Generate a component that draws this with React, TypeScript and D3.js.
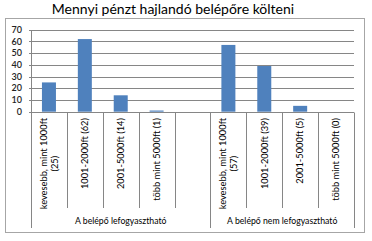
import React, { useEffect, useRef } from "react";
import * as d3 from "d3";

const title = "Mennyi pénzt hajlandó belépőre költeni";
const groupNames = ["A belépő lefogyasztható", "A belépő nem lefogyasztható"];
const groupSizes = [5, 4];
const categoryLabels: string[][] = [
  ["kevesebb, mint 1000ft", "(25)"],
  ["1001-2000ft (62)"],
  ["2001-5000ft (14)"],
  ["több mint 5000ft (1)"],
  [],
  ["kevesebb, mint 1000ft", "(57)"],
  ["1001-2000ft (39)"],
  ["2001-5000ft (5)"],
  ["több mint 5000ft (0)"],
];
const values: (number | null)[] = [25, 62, 14, 1, null, 57, 39, 5, 0];
const yTicks = [0, 10, 20, 30, 40, 50, 60, 70];

const W = 372;
const H = 241;
const FONT = "Lato, 'Noto Sans', sans-serif";

export default function App() {
  const ref = useRef<SVGSVGElement | null>(null);

  useEffect(() => {
    const svg = d3.select(ref.current);
    svg.selectAll("*").remove();

    const left = 31, right = 354, top = 29.7, bottom = 111.7;
    const x = d3.scaleBand<number>().domain(d3.range(values.length)).range([left, right]).padding(0);
    const y = d3.scaleLinear().domain([0, 70]).range([bottom, top]);

    svg.append("rect").attr("x", 0).attr("y", 0).attr("width", W).attr("height", H).attr("fill", "#fff");
    svg.append("rect").attr("x", 5.5).attr("y", 18.5).attr("width", 359).attr("height", 214)
      .attr("fill", "none").attr("stroke", "#a6a6a6");

    svg.append("text").attr("x", 173).attr("y", 14).attr("text-anchor", "middle")
      .attr("font-family", FONT).attr("font-size", 14).attr("fill", "#000").text(title);

    // gridlines
    svg.append("g").selectAll("line").data(yTicks).join("line")
      .attr("x1", left - 2).attr("x2", right)
      .attr("y1", (d) => Math.round(y(d)) + 0.5).attr("y2", (d) => Math.round(y(d)) + 0.5)
      .attr("stroke", "#868686");
    // y axis line
    svg.append("line").attr("x1", left + 0.5).attr("x2", left + 0.5)
      .attr("y1", Math.round(top) + 0.5).attr("y2", Math.round(bottom) + 0.5).attr("stroke", "#868686");
    // y labels
    svg.append("g").selectAll("text").data(yTicks).join("text")
      .attr("x", 22).attr("y", (d) => y(d)).attr("dy", "0.35em").attr("text-anchor", "end")
      .attr("font-family", FONT).attr("font-size", 9).attr("font-weight", 600).attr("fill", "#222").text((d) => d);

    // bars
    const bw = 14;
    svg.append("g").selectAll("rect").data(values.map((v, i) => ({ v, i })).filter((d) => d.v !== null && (d.v as number) > 0))
      .join("rect")
      .attr("x", (d) => (x(d.i) as number) + x.bandwidth() / 2 - bw / 2)
      .attr("width", bw)
      .attr("y", (d) => y(d.v as number))
      .attr("height", (d) => y(0) - y(d.v as number))
      .attr("fill", "#4f81bd");

    // separators
    const groupStarts = new Set<number>();
    let acc = 0;
    groupStarts.add(0);
    groupSizes.forEach((s) => { acc += s; groupStarts.add(acc); });
    const bounds = d3.range(values.length + 1);
    svg.append("g").selectAll("line").data(bounds).join("line")
      .attr("x1", (d) => Math.round(left + d * x.bandwidth()) + 0.5)
      .attr("x2", (d) => Math.round(left + d * x.bandwidth()) + 0.5)
      .attr("y1", Math.round(bottom) + 0.5)
      .attr("y2", (d) => (groupStarts.has(d) ? 228 : 208))
      .attr("stroke", "#868686");

    // category labels
    const labelTop = 118;
    categoryLabels.forEach((lines, i) => {
      if (!lines.length) return;
      const cx = (x(i) as number) + x.bandwidth() / 2;
      const g = svg.append("g");
      const texts = lines.map((l) =>
        g.append("text").attr("font-family", FONT).attr("font-size", 9.3).attr("fill", "#000")
          .attr("text-anchor", "middle").text(l)
      );
      const maxW = d3.max(texts, (t) => (t.node() as SVGTextElement).getComputedTextLength()) || 0;
      const cy = labelTop + maxW / 2;
      const lh = 10.7;
      texts.forEach((t, k) => {
        const off = (k - (lines.length - 1) / 2) * lh;
        t.attr("transform", `translate(${cx + off},${cy}) rotate(-90)`).attr("dy", "0.35em");
      });
    });

    // group labels
    let start = 0;
    groupSizes.forEach((s, gi) => {
      const cx = left + (start + s / 2) * x.bandwidth();
      svg.append("text").attr("x", cx).attr("y", 224).attr("text-anchor", "middle")
        .attr("font-family", FONT).attr("font-size", 8.7).attr("fill", "#000").text(groupNames[gi]);
      start += s;
    });
  }, []);

  return <svg ref={ref} width={W} height={H} style={{ display: "block", position: "absolute", left: 0, top: 0 }} />;
}
